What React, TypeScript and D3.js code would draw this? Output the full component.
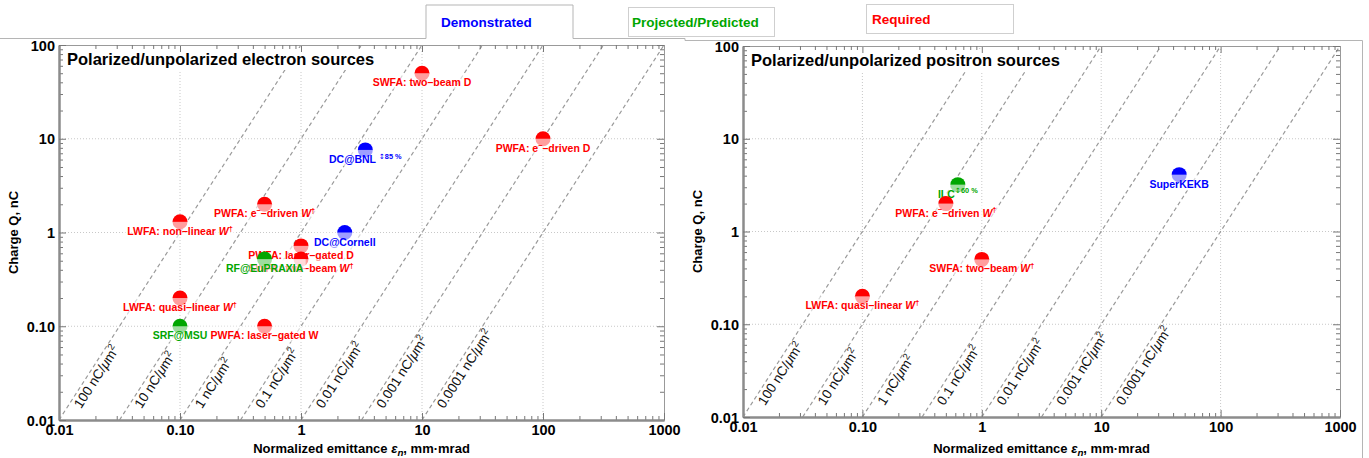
import * as d3 from "d3";
import { useEffect, useRef } from "react";

// axis ticks (log decades)
const xTicks = [0.01, 0.1, 1, 10, 100, 1000];
const xTickLabels = ["0.01", "0.10", "1", "10", "100", "1000"];
const yTicks = [0.01, 0.1, 1, 10, 100];
const yTickLabels = ["0.01", "0.10", "1", "10", "100"];

// constant charge density lines, nC/um^2
const densities = [100, 10, 1, 0.1, 0.01, 0.001, 0.0001];
const densityLabels = ["100", "10", "1", "0.1", "0.01", "0.001", "0.0001"];

// ^{..} superscript, _{..} italic, ~{..} italic subscript
const electronLabels = [
  "SWFA: two–beam D",
  "PWFA: e^{−}–driven D",
  "DC@BNL ^{↕}^{85 %}",
  "PWFA: e^{−}–driven _{W}^{†}",
  "LWFA: non–linear _{W}^{†}",
  "DC@Cornell",
  "PWFA: laser–gated D",
  "SWFA: two–beam _{W}^{†}",
  "RF@EuPRAXIA",
  "LWFA: quasi–linear _{W}^{†}",
  "SRF@MSU",
  "PWFA: laser–gated W",
];
const electronEmittance = [10, 100, 3.4, 0.5, 0.1, 2.3, 1, 1, 0.5, 0.1, 0.1, 0.5];
const electronCharge = [50, 10, 7.6, 2, 1.3, 1, 0.72, 0.52, 0.52, 0.2, 0.1, 0.1];
const electronKind = ["R", "R", "D", "R", "R", "D", "R", "R", "P", "R", "P", "R"];

const positronLabels = [
  "SuperKEKB",
  "ILC^{↕}^{60 %}",
  "PWFA: e^{−}–driven _{W}^{†}",
  "SWFA: two–beam _{W}^{†}",
  "LWFA: quasi–linear _{W}^{†}",
];
const positronEmittance = [45, 0.63, 0.5, 1, 0.1];
const positronCharge = [4.1, 3.2, 2, 0.5, 0.2];
const positronKind = ["D", "P", "R", "R", "R"];

const legendNames = ["Demonstrated", "Projected/Predicted", "Required"];
const legendKinds = ["D", "P", "R"];

const kindColor: Record<string, string> = { D: "#0000ff", P: "#00a600", R: "#ff0000" };
const FONT = "'Liberation Sans', Arial, sans-serif";

function addRich(text: any, str: string, size: number) {
  const parts = str.split(/(\^\{[^}]*\}|_\{[^}]*\}|~\{[^}]*\})/).filter((s) => s !== "");
  let shift = 0;
  for (const part of parts) {
    const ts = text.append("tspan");
    let target = 0;
    let content = part;
    if (part.startsWith("^{")) {
      target = -size * 0.4;
      content = part.slice(2, -1);
      ts.attr("font-size", size * 0.7);
    } else if (part.startsWith("_{")) {
      content = part.slice(2, -1);
      ts.attr("font-style", "italic");
    } else if (part.startsWith("~{")) {
      target = size * 0.22;
      content = part.slice(2, -1);
      ts.attr("font-style", "italic").attr("font-size", size * 0.75);
    }
    if (content.includes("↕")) ts.attr("font-family", "'DejaVu Sans', sans-serif").attr("font-weight", "normal");
    ts.attr("dy", target - shift).text(content);
    shift = target;
  }
}

function drawPanel(svg: any, p: any, id: string, title: string, names: string[], emit: number[], charge: number[], kind: string[]) {
  const x = d3.scaleLog().domain([0.01, 1000]).range([p.left, p.right]);
  const y = d3.scaleLog().domain([0.01, 100]).range([p.bottom, p.top]);
  const g = svg.append("g");

  g.append("clipPath").attr("id", id).append("rect")
    .attr("x", p.left).attr("y", p.top).attr("width", p.right - p.left).attr("height", p.bottom - p.top);

  // grid
  const grid = g.append("g").attr("stroke", "#c8c8c8").attr("stroke-dasharray", "1,2").attr("stroke-width", 1);
  grid.selectAll(".gx").data(xTicks.slice(1, -1)).join("line")
    .attr("x1", (d: number) => x(d)).attr("x2", (d: number) => x(d)).attr("y1", p.top).attr("y2", p.bottom);
  grid.selectAll(".gy").data(yTicks.slice(1, -1)).join("line")
    .attr("y1", (d: number) => y(d)).attr("y2", (d: number) => y(d)).attr("x1", p.left).attr("x2", p.right);

  // density lines
  const dl = g.append("g").attr("clip-path", `url(#${id})`);
  const line = d3.line<[number, number]>().x((d) => x(d[0])).y((d) => y(d[1]));
  densities.forEach((rho, i) => {
    const e0 = Math.max(0.01, Math.sqrt(0.01 / rho));
    const e1 = Math.min(1000, Math.sqrt(100 / rho));
    const pts: [number, number][] = [[e0, rho * e0 * e0], [e1, rho * e1 * e1]];
    dl.append("path").attr("d", line(pts)).attr("fill", "none")
      .attr("stroke", "#9a9a9a").attr("stroke-width", 1.2).attr("stroke-dasharray", "4,3");
    const ang = (Math.atan2(y(pts[1][1]) - y(pts[0][1]), x(pts[1][0]) - x(pts[0][0])) * 180) / Math.PI;
    const qy = y.invert(p.bottom - 16);
    const ex = Math.sqrt(qy / rho);
    const t = g.append("text")
      .attr("transform", `translate(${x(ex)},${y(qy)}) rotate(${ang}) translate(2,12.6)`)
      .attr("font-family", FONT).attr("font-size", 13.5).attr("fill", "#111");
    addRich(t, `${densityLabels[i]} nC/_{μ}m^{2}`, 13.5);
  });

  // title with white background
  const tt = g.append("text").attr("x", p.left + 8).attr("y", p.top + 20)
    .attr("font-family", FONT).attr("font-size", 16.5).attr("font-weight", "bold").text(title);
  const tb = (tt.node() as SVGTextElement).getBBox();
  g.insert("rect", () => tt.node()).attr("x", tb.x - 4).attr("y", tb.y - 2)
    .attr("width", tb.width + 8).attr("height", tb.height + 4).attr("fill", "white");

  // axes
  const minor: number[] = [];
  [-2, -1, 0, 1, 2].forEach((e) => [2, 3, 4, 5, 6, 7, 8, 9].forEach((k) => minor.push(k * Math.pow(10, e))));
  const minorY = minor.filter((v) => v < 100);
  const style = (a: any, col: string, w: number) => {
    a.select(".domain").attr("stroke", col).attr("stroke-width", w);
    a.selectAll(".tick line").attr("stroke", "#777");
  };
  const mk = (gen: any, tr: string, col: string, w: number) => {
    const a = g.append("g").attr("transform", tr).call(gen);
    style(a, col, w);
    a.selectAll("text").remove();
    return a;
  };
  mk(d3.axisTop(x).tickValues(xTicks).tickSizeInner(-7).tickSizeOuter(0), `translate(0,${p.top})`, "#999", 1);
  mk(d3.axisTop(x).tickValues(minor).tickSizeInner(-4).tickSizeOuter(0), `translate(0,${p.top})`, "#999", 1);
  mk(d3.axisRight(y).tickValues(yTicks).tickSizeInner(-7).tickSizeOuter(0), `translate(${p.right},0)`, "#999", 1);
  mk(d3.axisRight(y).tickValues(minorY).tickSizeInner(-4).tickSizeOuter(0), `translate(${p.right},0)`, "#999", 1);
  mk(d3.axisBottom(x).tickValues(minor).tickSizeInner(-4).tickSizeOuter(0), `translate(0,${p.bottom})`, "#8c8c8c", 2);
  mk(d3.axisLeft(y).tickValues(minorY).tickSizeInner(-4).tickSizeOuter(0), `translate(${p.left},0)`, "#8c8c8c", 2);
  const bx = g.append("g").attr("transform", `translate(0,${p.bottom})`)
    .call(d3.axisBottom(x).tickValues(xTicks).tickSizeInner(-7).tickSizeOuter(0).tickPadding(6)
      .tickFormat((_d: any, i: number) => xTickLabels[i]));
  style(bx, "#8c8c8c", 2);
  bx.selectAll("text").attr("font-family", FONT).attr("font-size", 14.5).attr("font-weight", "bold").attr("fill", "#000")
    .attr("y", 15).attr("dy", 0);
  const ly = g.append("g").attr("transform", `translate(${p.left},0)`)
    .call(d3.axisLeft(y).tickValues(yTicks).tickSizeInner(-7).tickSizeOuter(0)
      .tickFormat((_d: any, i: number) => yTickLabels[i]));
  style(ly, "#8c8c8c", 2);
  ly.selectAll("text").attr("font-family", FONT).attr("font-size", 14.5).attr("font-weight", "bold").attr("fill", "#000")
    .attr("x", -4).attr("dy", 5);

  // axis titles
  const xt = g.append("text").attr("x", (p.left + p.right) / 2).attr("y", 453).attr("text-anchor", "middle")
    .attr("font-family", FONT).attr("font-size", 13).attr("font-weight", "bold");
  addRich(xt, "Normalized emittance _{ε}~{n}, mm·mrad", 13);
  g.append("text").attr("transform", `translate(${p.left - 41},${(p.top + p.bottom) / 2}) rotate(-90)`)
    .attr("text-anchor", "middle").attr("font-family", FONT).attr("font-size", 13).attr("font-weight", "bold")
    .text("Charge Q, nC");

  // points with half-transparent label boxes
  names.forEach((name, i) => {
    const cx = x(emit[i]);
    const cy = y(charge[i]);
    const col = kindColor[kind[i]];
    g.append("circle").attr("cx", cx).attr("cy", cy).attr("r", 7.5).attr("fill", col);
    const lt = g.append("text").attr("x", cx).attr("y", cy + 13).attr("text-anchor", "middle")
      .attr("font-family", FONT).attr("font-size", 10.5).attr("font-weight", "bold").attr("fill", col);
    addRich(lt, name, 10.5);
    const b = (lt.node() as SVGTextElement).getBBox();
    g.insert("rect", () => lt.node()).attr("x", b.x - 2).attr("y", cy)
      .attr("width", b.width + 4).attr("height", b.y + b.height - cy + 1)
      .attr("fill", "white").attr("fill-opacity", 0.62);
  });
}

export default function App() {
  const ref = useRef<SVGSVGElement>(null);
  const W = 1369;
  const H = 458;

  useEffect(() => {
    const svg = d3.select(ref.current);
    svg.selectAll("*").remove();

    // legend tabs
    const boxes = [
      { x: 426, y: 5, w: 147, h: 33, pad: 15 },
      { x: 628, y: 7, w: 146, h: 29, pad: 4 },
      { x: 866, y: 4, w: 147, h: 29, pad: 6 },
    ];
    const lg = svg.append("g");
    lg.append("path").attr("d", `M0,38.5H${boxes[0].x}V${boxes[0].y}H${boxes[0].x + boxes[0].w}V38.5H685V40.5H1362.5V${H}`)
      .attr("fill", "none").attr("stroke", "#b5b5b5").attr("stroke-width", 1);
    legendNames.forEach((n, i) => {
      const b = boxes[i];
      if (i > 0) {
        lg.append("rect").attr("x", b.x + 0.5).attr("y", b.y + 0.5).attr("width", b.w).attr("height", b.h)
          .attr("fill", "white").attr("stroke", "#cfcfcf");
      }
      lg.append("text").attr("x", b.x + b.pad).attr("y", b.y + b.h / 2 + 5)
        .attr("font-family", FONT).attr("font-size", 13.5).attr("font-weight", "bold")
        .attr("fill", kindColor[legendKinds[i]]).text(n);
    });

    drawPanel(svg, { left: 59, right: 664, top: 45, bottom: 420 }, "clipE",
      "Polarized/unpolarized electron sources", electronLabels, electronEmittance, electronCharge, electronKind);
    drawPanel(svg, { left: 743, right: 1340, top: 46, bottom: 417 }, "clipP",
      "Polarized/unpolarized positron sources", positronLabels, positronEmittance, positronCharge, positronKind);
  }, []);

  return (
    <svg ref={ref} width={W} height={H}
      style={{ position: "absolute", left: 0, top: 0, background: "white", display: "block" }} />
  );
}
